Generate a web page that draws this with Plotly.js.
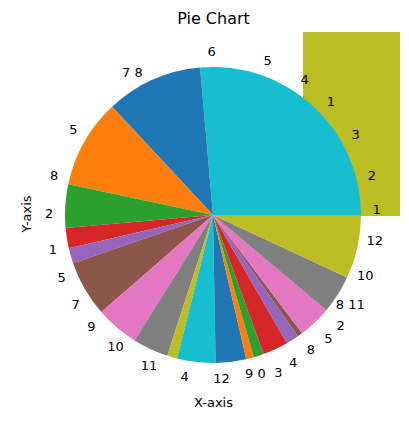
<!DOCTYPE html>
<html><head><script src="https://cdn.plot.ly/plotly-3.0.1.min.js"></script>
<style>body{margin:0}</style></head><body>
<div id="chart" style="width:409px;height:431px"></div>
<script>
// wedge sizes (degrees of the circle), counterclockwise from 3 o'clock
var wedgeSizes = [95, 38, 35, 17, 8, 6, 22, 17, 14, 4, 15, 12, 3, 4, 10, 5, 2, 13, 15, 25];
var wedgeColors = ['#17becf', '#1f77b4', '#ff7f0e', '#2ca02c', '#d62728', '#9467bd', '#8c564b', '#e377c2', '#7f7f7f', '#bcbd22',
                   '#17becf', '#1f77b4', '#ff7f0e', '#2ca02c', '#d62728', '#9467bd', '#8c564b', '#e377c2', '#7f7f7f', '#bcbd22'];
// overlapping label layer, counterclockwise from 3 degrees below 3 o'clock
var labelText = ['1', '2', '3', '1', '4', '5', '6', '7 8', '5', '8', '2', '1', '5', '7', '9', '10', '11', '4', '12', '9 0', '3', '4', '8', '5', '2', '8 11', '10', '12'];
var labelSizes = [10, 14, 17, 12, 12, 17, 23, 35, 23, 12, 15, 10, 11, 10, 9, 13, 14, 12, 14, 10, 5, 7, 8, 6, 6, 10, 13, 12];

var font = {family: 'DejaVu Sans', size: 13, color: '#000'};

var traces = [
  {
    type: 'pie', values: wedgeSizes, labels: wedgeSizes.map(function (v, i) { return 'w' + i; }),
    marker: {colors: wedgeColors}, sort: false, direction: 'counterclockwise', rotation: 90 - wedgeSizes[0],
    textinfo: 'none', hoverinfo: 'none', domain: {x: [65 / 409, 361 / 409], y: [68 / 431, 364 / 431]}
  },
  {
    type: 'pie', values: labelSizes, labels: labelSizes.map(function (v, i) { return 'l' + i; }),
    text: labelText, textinfo: 'text', textposition: 'inside', insidetextorientation: 'horizontal',
    insidetextfont: font, hole: 0.84,
    marker: {colors: labelSizes.map(function () { return 'rgba(0,0,0,0)'; })},
    sort: false, direction: 'counterclockwise', rotation: 90 - (labelSizes[0] - 3), hoverinfo: 'none',
    domain: {x: [35 / 409, 391 / 409], y: [38 / 431, 394 / 431]}
  }
];

var layout = {
  width: 409, height: 431, margin: {l: 0, r: 0, t: 0, b: 0},
  paper_bgcolor: '#fff', showlegend: false, font: font,
  uniformtext: {minsize: 13, mode: 'show'},
  title: {text: 'Pie Chart', x: 0.522, y: 0.958, xanchor: 'center', yanchor: 'middle', font: {family: 'DejaVu Sans', size: 16, color: '#000'}},
  shapes: [{type: 'rect', xref: 'paper', yref: 'paper', x0: 303 / 409, x1: 400 / 409, y0: 1 - 216 / 431, y1: 1 - 32 / 431,
            fillcolor: '#bcbd22', line: {width: 0}, layer: 'below'}],
  annotations: [
    {text: 'X-axis', xref: 'paper', yref: 'paper', x: 213 / 409, y: 1 - 412 / 431, showarrow: false, font: font},
    {text: 'Y-axis', xref: 'paper', yref: 'paper', x: 16 / 409, y: 1 - 215 / 431, showarrow: false, textangle: -90, font: font}
  ]
};
Plotly.newPlot('chart', traces, layout, {displayModeBar: false});
</script></body></html>
